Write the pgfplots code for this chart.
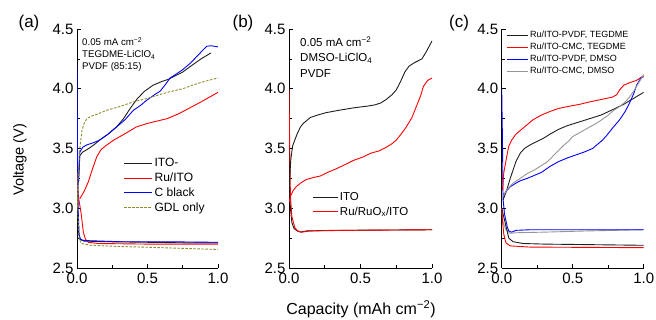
\documentclass[border=0pt]{standalone}
\usepackage{pgfplots}
\pgfplotsset{compat=1.18}
\usepackage{fontspec}
\setmainfont{Liberation Sans}
\definecolor{gdl}{RGB}{140,140,45}
\definecolor{grayc}{RGB}{150,150,150}
\definecolor{blk}{RGB}{30,30,30}
\tikzset{gdash/.style={draw=gdl, dash pattern=on 2.5pt off 1.5pt}}
\pgfplotsset{
  panel/.style={
    scale only axis, width=141pt, height=239pt,
    anchor=south west,
    xmin=0, xmax=1.0, ymin=2.5, ymax=4.5,
    axis lines=left, axis line style={-, line width=0.8pt},
    xtick={0,0.5,1}, ytick={2.5,3,3.5,4,4.5},
    minor x tick num=1, minor y tick num=1,
    tick align=inside, major tick length=4pt, minor tick length=3pt,
    tick style={line width=0.6pt, black},
    /pgf/number format/assume math mode=true,
    /pgf/number format/.cd, fixed, fixed zerofill, precision=1, /pgfplots/.cd,
    tick label style={font=\fontsize{15}{16}\selectfont},
    xticklabel style={yshift=-1pt},
    legend cell align=left,
  }
}
\begin{document}
\begin{tikzpicture}
\path[use as bounding box] (0,0) rectangle (656pt,320pt);

% ---------------- (a)
\begin{axis}[panel, at={(77pt,52pt)},
  legend style={draw=none, fill=none, at={(0.33,0.467)}, anchor=north west, inner sep=0pt,
    font=\fontsize{12}{13}\selectfont\vphantom{Iy}, row sep=0.5pt},
  legend image code/.code={\draw[#1] (0pt,0pt) -- (28pt,0pt);}]
\addplot[blk, line width=0.9pt, forget plot] coordinates {(0,3.4) (0.005,3.0) (0.01,2.8) (0.02,2.74) (0.05,2.725) (0.2,2.72) (0.5,2.715) (0.8,2.71) (1.0,2.71)};
\addplot[red, line width=0.9pt, forget plot] coordinates {(0,3.3) (0.01,3.1) (0.03,2.95) (0.045,2.8) (0.06,2.74) (0.08,2.715) (0.15,2.705) (0.5,2.70) (1.0,2.70)};
\addplot[blue, line width=0.9pt, forget plot] coordinates {(0,4.2) (0.003,3.6) (0.008,3.0) (0.015,2.78) (0.025,2.74) (0.05,2.73) (0.3,2.72) (0.6,2.72) (1.0,2.715)};
\addplot[gdash, line width=0.9pt, forget plot] coordinates {(0,3.3) (0.005,3.0) (0.015,2.75) (0.03,2.705) (0.1,2.69) (0.3,2.68) (0.6,2.67) (1.0,2.655)};
\addplot[blk, line width=0.9pt] coordinates {(0.01,3.2) (0.02,3.44) (0.04,3.47) (0.07,3.49) (0.12,3.53) (0.16,3.57) (0.22,3.62) (0.28,3.68) (0.33,3.75) (0.38,3.84) (0.43,3.92) (0.48,3.98) (0.54,4.03) (0.6,4.06) (0.65,4.08) (0.7,4.11) (0.75,4.14) (0.82,4.20) (0.88,4.25) (0.95,4.30)};
\addlegendentry{ITO-}
\addplot[red, line width=0.9pt] coordinates {(0.02,3.08) (0.05,3.14) (0.08,3.22) (0.11,3.33) (0.14,3.43) (0.17,3.49) (0.20,3.52) (0.26,3.57) (0.35,3.63) (0.42,3.68) (0.5,3.71) (0.64,3.75) (0.72,3.79) (0.80,3.84) (0.88,3.89) (0.94,3.93) (1.0,3.97)};
\addlegendentry{Ru/ITO}
\addplot[blue, line width=0.9pt] coordinates {(0.01,3.2) (0.02,3.47) (0.04,3.51) (0.07,3.53) (0.12,3.55) (0.16,3.57) (0.22,3.62) (0.28,3.68) (0.34,3.74) (0.40,3.82) (0.45,3.86) (0.49,3.90) (0.55,3.95) (0.59,3.98) (0.63,4.04) (0.66,4.09) (0.70,4.12) (0.75,4.16) (0.80,4.21) (0.85,4.27) (0.89,4.32) (0.92,4.355) (0.95,4.36) (1.0,4.35)};
\addlegendentry{C black}
\addplot[gdash, line width=0.9pt] coordinates {(0.005,3.0) (0.01,3.3) (0.02,3.5) (0.035,3.65) (0.05,3.71) (0.07,3.75) (0.1,3.77) (0.15,3.79) (0.21,3.82) (0.3,3.85) (0.4,3.89) (0.5,3.92) (0.64,3.97) (0.75,4.0) (0.82,4.03) (0.9,4.06) (1.0,4.09)};
\addlegendentry{GDL only}
\end{axis}

% ---------------- (b)
\begin{axis}[panel, at={(289pt,52pt)}, width=143pt,
  legend style={draw=none, fill=none, at={(0.16,0.326)}, anchor=north west, inner sep=0pt,
    font=\fontsize{11.5}{13}\selectfont\vphantom{Iy}, row sep=1pt},
  legend image code/.code={\draw[#1] (0pt,0pt) -- (25pt,0pt);}]
\addplot[blk, line width=0.9pt, forget plot] coordinates {(0,3.3) (0.01,3.0) (0.02,2.88) (0.035,2.83) (0.06,2.81) (0.08,2.80) (0.12,2.81) (0.3,2.815) (1.0,2.82)};
\addplot[red, line width=0.9pt, forget plot] coordinates {(0,4.0) (0.005,3.5) (0.01,3.1) (0.02,2.93) (0.04,2.84) (0.06,2.81) (0.09,2.80) (0.15,2.81) (0.4,2.815) (1.0,2.82)};
\addplot[blk, line width=0.9pt] coordinates {(0.0,3.1) (0.005,3.25) (0.012,3.40) (0.025,3.52) (0.04,3.57) (0.06,3.63) (0.08,3.68) (0.1,3.71) (0.15,3.76) (0.2,3.78) (0.26,3.80) (0.35,3.82) (0.45,3.84) (0.55,3.855) (0.6,3.865) (0.64,3.88) (0.68,3.91) (0.72,3.95) (0.75,3.99) (0.78,4.06) (0.81,4.14) (0.84,4.19) (0.88,4.22) (0.93,4.25) (0.96,4.31) (1.0,4.40)};
\addlegendentry{ITO}
\addplot[red, line width=0.9pt] coordinates {(0.0,3.05) (0.01,3.10) (0.03,3.15) (0.05,3.18) (0.08,3.21) (0.12,3.24) (0.18,3.26) (0.22,3.27) (0.27,3.30) (0.33,3.33) (0.40,3.37) (0.45,3.40) (0.52,3.43) (0.57,3.46) (0.63,3.48) (0.68,3.51) (0.72,3.54) (0.75,3.57) (0.79,3.63) (0.82,3.68) (0.86,3.76) (0.89,3.85) (0.92,3.94) (0.94,4.02) (0.97,4.07) (1.0,4.09)};
\addlegendentry{Ru/RuO\textsubscript{x}/ITO}
\end{axis}

% ---------------- (c)
\begin{axis}[panel, at={(501.7pt,52pt)}, width=142pt,
  legend style={draw=none, fill=none, at={(0.03,1.0)}, anchor=north west, inner sep=0pt,
    font=\fontsize{9}{10}\selectfont\vphantom{Iy}, row sep=0pt},
  legend image code/.code={\draw[#1] (0pt,0pt) -- (21pt,0pt);}]
\addplot[grayc, line width=0.9pt, forget plot] coordinates {(0,3.0) (0.01,2.88) (0.03,2.82) (0.06,2.79) (0.1,2.795) (0.3,2.80) (0.6,2.81) (1.0,2.82)};
\addplot[blue, line width=0.9pt, forget plot] coordinates {(0,4.0) (0.005,3.6) (0.01,3.07) (0.02,2.95) (0.04,2.84) (0.05,2.81) (0.07,2.80) (0.1,2.815) (0.2,2.82) (1.0,2.82)};
\addplot[blk, line width=0.9pt, forget plot] coordinates {(0,3.0) (0.01,2.95) (0.03,2.85) (0.05,2.75) (0.08,2.72) (0.15,2.705) (0.3,2.70) (1.0,2.69)};
\addplot[red, line width=0.9pt, forget plot] coordinates {(0,3.0) (0.005,2.9) (0.015,2.78) (0.03,2.71) (0.06,2.685) (0.2,2.675) (1.0,2.67)};
\addplot[blk, line width=0.9pt] coordinates {(0.01,3.07) (0.035,3.15) (0.06,3.25) (0.08,3.32) (0.1,3.39) (0.13,3.46) (0.16,3.50) (0.2,3.53) (0.25,3.56) (0.3,3.59) (0.34,3.62) (0.4,3.66) (0.46,3.69) (0.54,3.72) (0.62,3.75) (0.7,3.78) (0.79,3.83) (0.86,3.87) (0.93,3.92) (1.0,3.97)};
\addlegendentry{Ru/ITO-PVDF, TEGDME}
\addplot[red, line width=0.9pt] coordinates {(0.005,3.15) (0.015,3.30) (0.035,3.43) (0.05,3.52) (0.07,3.57) (0.1,3.62) (0.13,3.65) (0.18,3.70) (0.22,3.74) (0.28,3.78) (0.34,3.81) (0.4,3.835) (0.46,3.85) (0.55,3.87) (0.62,3.89) (0.7,3.91) (0.78,3.93) (0.81,3.95) (0.83,3.99) (0.86,4.03) (0.9,4.05) (0.95,4.07) (1.0,4.11)};
\addlegendentry{Ru/ITO-CMC, TEGDME}
\addplot[blue, line width=0.9pt] coordinates {(0.01,3.10) (0.03,3.14) (0.06,3.18) (0.1,3.21) (0.13,3.23) (0.18,3.25) (0.22,3.27) (0.28,3.30) (0.34,3.35) (0.4,3.39) (0.46,3.42) (0.52,3.445) (0.58,3.47) (0.64,3.50) (0.67,3.53) (0.71,3.57) (0.74,3.61) (0.78,3.67) (0.83,3.74) (0.87,3.81) (0.90,3.88) (0.93,3.96) (0.95,4.03) (0.98,4.09) (1.0,4.10)};
\addlegendentry{Ru/ITO-PVDF, DMSO}
\addplot[grayc, line width=0.9pt] coordinates {(0.01,3.10) (0.04,3.16) (0.08,3.21) (0.13,3.25) (0.18,3.29) (0.23,3.32) (0.27,3.35) (0.31,3.38) (0.34,3.41) (0.38,3.46) (0.43,3.52) (0.47,3.56) (0.5,3.60) (0.56,3.64) (0.62,3.68) (0.68,3.72) (0.74,3.77) (0.79,3.82) (0.83,3.85) (0.87,3.89) (0.9,3.93) (0.93,3.98) (0.95,4.02) (0.98,4.08) (1.0,4.12)};
\addlegendentry{Ru/ITO-CMC, DMSO}
\end{axis}

% annotations and labels
\begin{scope}[every node/.style={inner sep=0pt}]
\node[anchor=base west, font=\fontsize{9.7}{11}\selectfont] at (82pt,274pt) {0.05 mA cm\textsuperscript{−2}};
\node[anchor=base west, font=\fontsize{9.7}{11}\selectfont] at (82pt,262pt) {TEGDME-LiClO\textsubscript{4}};
\node[anchor=base west, font=\fontsize{9.7}{11}\selectfont] at (82pt,250pt) {PVDF (85:15)};
\node[anchor=base west, font=\fontsize{11.5}{13}\selectfont] at (300pt,273pt) {0.05 mA cm\textsuperscript{−2}};
\node[anchor=base west, font=\fontsize{11.5}{13}\selectfont] at (300pt,258.5pt) {DMSO-LiClO\textsubscript{4}};
\node[anchor=base west, font=\fontsize{11.5}{13}\selectfont] at (300pt,242pt) {PVDF};
\node[font=\fontsize{17}{18}\selectfont] at (29pt,297pt) {(a)};
\node[font=\fontsize{17}{18}\selectfont] at (243pt,297pt) {(b)};
\node[font=\fontsize{17}{18}\selectfont] at (459pt,297pt) {(c)};
\node[rotate=90, font=\fontsize{14.5}{16}\selectfont] at (20pt,160pt) {Voltage (V)};
\node[font=\fontsize{16}{17}\selectfont] at (361pt,11pt) {Capacity (mAh cm\textsuperscript{−2})};
\end{scope}
\end{tikzpicture}
\end{document}
